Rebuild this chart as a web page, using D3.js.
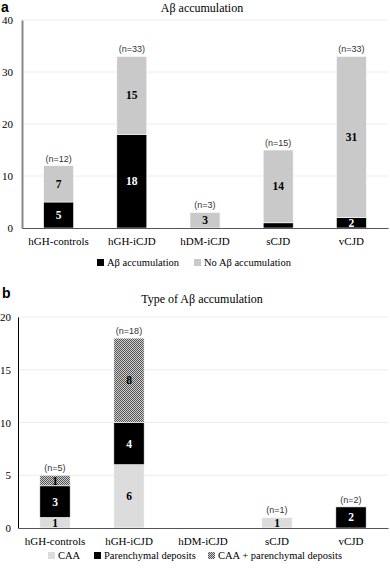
<!DOCTYPE html>
<html lang="en">
<head>
<meta charset="UTF-8">
<title>Aβ accumulation</title>
<script src="https://cdnjs.cloudflare.com/ajax/libs/d3/7.8.5/d3.min.js"></script>
<style>
  body { margin: 0; background: #fff; }
  svg { display: block; }
  .serif { font-family: 'Liberation Serif', 'Times New Roman', Times, serif; }
  .sans { font-family: 'Liberation Sans', Arial, sans-serif; }
</style>
</head>
<body>
<div id="wrapper"></div>
<script>
// ---- data ----
const categories = ['hGH-controls', 'hGH-iCJD', 'hDM-iCJD', 'sCJD', 'vCJD']

// panel a
const abetaYes = [5, 18, 0, 1, 2]
const abetaNo = [7, 15, 3, 14, 31]
const totalsA = ['(n=12)', '(n=33)', '(n=3)', '(n=15)', '(n=33)']
const ticksA = [0, 10, 20, 30, 40]

// panel b
const caa = [1, 6, 0, 1, 0]
const parenchymal = [3, 4, 0, 0, 2]
const caaParenchymal = [1, 8, 0, 0, 0]
const totalsB = ['(n=5)', '(n=18)', '', '(n=1)', '(n=2)']
const ticksB = [0, 5, 10, 15, 20]

const width = 390, height = 569

const svg = d3.select('#wrapper').append('svg')
    .attr('width', width)
    .attr('height', height)

// checker pattern for CAA + parenchymal deposits
const defs = svg.append('defs')
const pat = defs.append('pattern')
    .attr('id', 'checker')
    .attr('width', 2).attr('height', 2)
    .attr('patternUnits', 'userSpaceOnUse')
pat.append('rect').attr('width', 2).attr('height', 2).attr('fill', '#d0d0d0')
pat.append('rect').attr('width', 1).attr('height', 1).attr('fill', '#555')
pat.append('rect').attr('x', 1).attr('y', 1).attr('width', 1).attr('height', 1).attr('fill', '#555')

function drawPanel(opt) {
    const g = svg.append('g')

    const x = d3.scaleBand()
        .domain(categories)
        .range([opt.left, opt.right])
        .paddingInner(0.59)
        .paddingOuter(0.295)

    const y = d3.scaleLinear()
        .domain(opt.domain)
        .range([opt.bottom, opt.top])

    // panel letter + title
    g.append('text')
        .attr('class', 'sans')
        .attr('x', opt.letterX).attr('y', opt.letterY)
        .attr('font-weight', 'bold').attr('font-size', 14)
        .text(opt.letter)
    g.append('text')
        .attr('class', 'serif')
        .attr('x', 202).attr('y', opt.titleY)
        .attr('text-anchor', 'middle')
        .attr('font-size', 12)
        .text(opt.title)

    // gridlines
    g.append('g').selectAll('line')
        .data(opt.ticks.filter(d => d > 0))
        .join('line')
        .attr('x1', opt.left).attr('x2', opt.right)
        .attr('y1', d => y(d)).attr('y2', d => y(d))
        .attr('stroke', '#ececec')

    // stacked bars
    const keys = opt.series.map(s => s.key)
    const rows = categories.map((c, i) => {
        const r = { cat: c }
        opt.series.forEach(s => { r[s.key] = s.values[i] })
        return r
    })
    const stacked = d3.stack().keys(keys)(rows)

    stacked.forEach((layer, li) => {
        const s = opt.series[li]
        const lg = g.append('g')
        lg.selectAll('rect')
            .data(layer.filter(d => d[1] - d[0] > 0))
            .join('rect')
            .attr('x', d => x(d.data.cat))
            .attr('width', x.bandwidth())
            .attr('y', d => y(d[1]))
            .attr('height', d => y(d[0]) - y(d[1]))
            .attr('fill', s.fill)
            .attr('stroke', '#fff')
            .attr('stroke-width', 0.6)
        lg.selectAll('text')
            .data(layer.filter(d => d[1] - d[0] >= opt.minLabel))
            .join('text')
            .attr('class', 'serif')
            .attr('x', d => x(d.data.cat) + x.bandwidth() / 2)
            .attr('y', d => (y(d[0]) + y(d[1])) / 2 + 4)
            .attr('text-anchor', 'middle')
            .attr('font-weight', 'bold').attr('font-size', 11.5)
            .attr('fill', s.textColor)
            .text(d => d[1] - d[0])
    })

    // totals above bars
    const topVal = rows.map(r => d3.sum(keys, k => r[k]))
    g.append('g').selectAll('text')
        .data(categories)
        .join('text')
        .attr('class', 'sans')
        .attr('x', d => x(d) + x.bandwidth() / 2)
        .attr('y', (d, i) => y(topVal[i]) - 4)
        .attr('text-anchor', 'middle')
        .attr('font-size', 9)
        .attr('fill', '#333')
        .text((d, i) => opt.totals[i])

    // axes
    const yAxis = g.append('g')
        .attr('transform', `translate(${opt.left},0)`)
        .call(d3.axisLeft(y).tickValues(opt.ticks).tickSize(0).tickPadding(opt.tickPad))
    yAxis.attr('font-family', null)
    yAxis.select('.domain').attr('stroke', opt.yAxisColor).attr('stroke-width', opt.yAxisWidth)
    yAxis.selectAll('text').attr('class', 'serif').attr('font-size', 11).attr('fill', '#000')

    const xAxis = g.append('g')
        .attr('transform', `translate(0,${opt.bottom})`)
        .call(d3.axisBottom(x).tickSize(0).tickPadding(9))
    xAxis.attr('font-family', null)
    xAxis.select('.domain').attr('stroke', '#555').attr('stroke-width', 1.2)
    xAxis.selectAll('text').attr('class', 'serif').attr('font-size', 11).attr('fill', '#000')

    // legend
    const leg = g.append('g').attr('transform', `translate(0,${opt.legendY})`)
    opt.series.forEach((s, i) => {
        const item = leg.append('g').attr('transform', `translate(${opt.legendX[i]},0)`)
        item.append('rect')
            .attr('x', 0).attr('y', -7)
            .attr('width', 7).attr('height', 7)
            .attr('fill', s.fill)
        item.append('text')
            .attr('class', 'serif')
            .attr('x', 10).attr('y', 0)
            .attr('font-size', 10.5)
            .text(s.key)
    })
}

drawPanel({
    letter: 'a', letterX: 1, letterY: 12,
    title: 'Aβ accumulation', titleY: 12,
    left: 22, right: 388, top: 20, bottom: 228,
    domain: [0, 40], ticks: ticksA, tickPad: 9,
    yAxisColor: '#888', yAxisWidth: 2,
    minLabel: 2,
    totals: totalsA,
    series: [
        { key: 'Aβ accumulation', values: abetaYes, fill: '#000', textColor: '#fff' },
        { key: 'No  Aβ accumulation', values: abetaNo, fill: '#c9c9c9', textColor: '#000' }
    ],
    legendY: 266, legendX: [97, 194]
})

drawPanel({
    letter: 'b', letterX: 2, letterY: 298,
    title: 'Type of Aβ accumulation', titleY: 303,
    left: 18, right: 388, top: 317, bottom: 528,
    domain: [0, 20], ticks: ticksB, tickPad: 7,
    yAxisColor: '#000', yAxisWidth: 1,
    minLabel: 1,
    totals: totalsB,
    series: [
        { key: 'CAA', values: caa, fill: '#dcdcdc', textColor: '#000' },
        { key: 'Parenchymal deposits', values: parenchymal, fill: '#000', textColor: '#fff' },
        { key: 'CAA + parenchymal deposits', values: caaParenchymal, fill: 'url(#checker)', textColor: '#000' }
    ],
    legendY: 559, legendX: [48, 94, 208]
})
</script>
</body>
</html>
